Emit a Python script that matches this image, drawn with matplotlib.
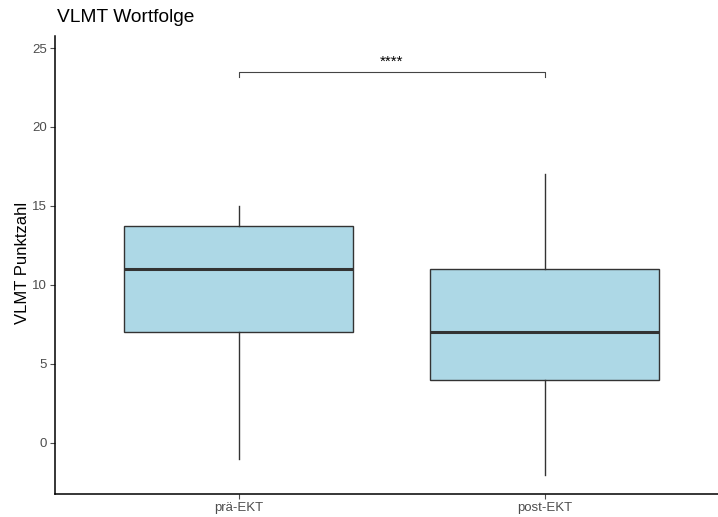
import matplotlib
matplotlib.use("Agg")
import matplotlib.pyplot as plt

# Box statistics per group
groups = ["prä-EKT", "post-EKT"]
whisker_low = [-1, -2]
q1 = [7, 4]
median = [11, 7]
q3 = [13.75, 11]
whisker_high = [15, 17]

yticks = [0, 5, 10, 15, 20, 25]
sig_label = "****"
bracket_y = 23.5

plt.rcParams["font.family"] = ["Liberation Sans", "DejaVu Sans"]

W, H, DPI = 718, 517, 100
fig = plt.figure(figsize=(W / DPI, H / DPI), dpi=DPI)

# axes spans x 0.4..2.6 (discrete scale expansion), right edge runs past the canvas
left_px, bottom_px, top_px = 55, 494, 36
unit_px = 306
right_px = left_px + 2.2 * unit_px
ax = fig.add_axes([left_px / W, 1 - bottom_px / H,
                   (right_px - left_px) / W, (bottom_px - top_px) / H])

stats = []
for i, g in enumerate(groups):
    stats.append(dict(label=g, whislo=whisker_low[i], q1=q1[i], med=median[i],
                      q3=q3[i], whishi=whisker_high[i], fliers=[]))

positions = list(range(1, len(groups) + 1))
edge = "#333333"
ax.bxp(stats, positions=positions, widths=0.75, patch_artist=True,
       showcaps=False, showfliers=False,
       boxprops=dict(facecolor="#ADD8E6", edgecolor=edge, linewidth=1.0),
       medianprops=dict(color=edge, linewidth=2.2, solid_capstyle="butt"),
       whiskerprops=dict(color=edge, linewidth=1.0))

ax.set_xlim(0.4, 2.6)
ax.set_ylim(-3.23, 25.76)
ax.set_yticks(yticks)
ax.set_xticks(positions)
ax.set_xticklabels(groups)

# significance bracket
ax.plot([1, 1, 2, 2], [bracket_y - 0.35, bracket_y, bracket_y, bracket_y - 0.35],
        color="#444444", linewidth=0.8)
ax.text(1.5, bracket_y + 0.6, sig_label, ha="center", va="center",
        fontsize=11, color="black")

for s in ["top", "right"]:
    ax.spines[s].set_visible(False)
for s in ["left", "bottom"]:
    ax.spines[s].set_linewidth(1.1)
    ax.spines[s].set_color("black")
ax.tick_params(axis="both", colors="#4D4D4D", labelsize=9.5, length=3.5, width=0.8,
               pad=2.5)
for lbl in ax.get_xticklabels() + ax.get_yticklabels():
    lbl.set_color("#4D4D4D")

fig.text(23 / W, 1 - 263 / H, "VLMT Punktzahl", fontsize=12, rotation=90,
         ha="center", va="center", color="black")
fig.text(57 / W, 1 - 18 / H, "VLMT Wortfolge", fontsize=13.8, ha="left",
         va="center", color="black")

fig.savefig("out.png", dpi=DPI)
